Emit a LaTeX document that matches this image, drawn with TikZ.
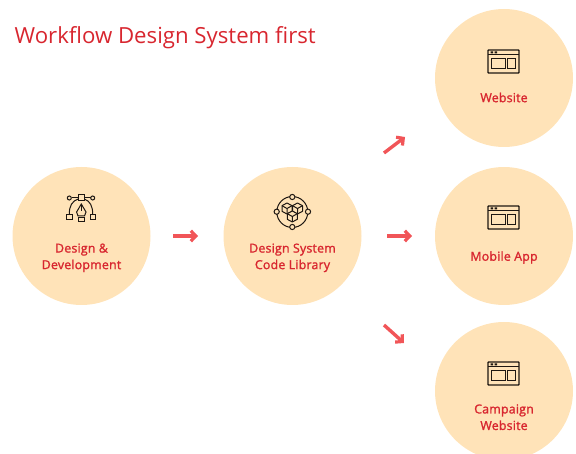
\documentclass[tikz,border=0pt]{standalone}
\usepackage{fontspec}
\setmainfont{Open Sans}
\newfontface\semibd[FakeBold=1.4,LetterSpace=1.5]{Open Sans}
\definecolor{disc}{HTML}{FFE3B8}
\definecolor{txt}{HTML}{D8262F}
\definecolor{arr}{HTML}{F15558}
\definecolor{ink}{HTML}{1E1712}
\usetikzlibrary{arrows.meta}
\tikzset{
  disc/.style={circle,fill=disc,draw=none,minimum size=138pt,inner sep=0pt},
  lab/.style={text=txt,font=\fontsize{12.4pt}{16.5pt}\selectfont\semibd,align=center,inner sep=0pt},
  flow/.style={draw=arr,line width=3.4pt,-{Straight Barb[length=5pt,width=10.5pt,line width=3.2pt]}},
  icon/.style={draw=ink,line width=1pt,fill=none},
  browser/.pic={
    \draw[icon,line width=1.3pt,rounded corners=.6pt] (-15.5,-11.5) rectangle (15.5,11.5);
    \draw[icon] (-15.5,-6.5) -- (15.5,-6.5);
    \fill[ink] (-13,-10) rectangle (-10.5,-8) (-9,-10) rectangle (-6.5,-8);
    \draw[icon] (-12,-3) rectangle (2,7.5);
    \draw[icon] (3.5,-3) rectangle (11.5,7.5);
  },
}
\begin{document}
\begin{tikzpicture}[x=1pt,y=-1pt]
\useasboundingbox (0,0) rectangle (576,454);
\begin{scope}
\clip (0,0) rectangle (576,454);
\node[disc] (dev) at (81.5,236) {};
\node[disc] (lib) at (292.5,236) {};
\node[disc] (web) at (504,78) {};
\node[disc] (app) at (504,236) {};
\node[disc] (camp) at (504,391) {};
\end{scope}
\node[anchor=west,text=txt,font=\fontsize{22.2pt}{28pt}\selectfont,inner sep=0pt] (title) at (14.5,37.5) {Workflow Design System first};
\node[lab] (devl) at (81.5,257.8) {Design \&\\Development};
\node[lab] (libl) at (292.5,257.8) {Design System\\Code Library};
\node[lab] (webl) at (504,97.5) {Website};
\node[lab] (appl) at (504,257.5) {Mobile App};
\node[lab] (campl) at (504,417.2) {Campaign\\Website};
% icons
\pic at (503.5,61.5) {browser};
\pic at (503.5,217.5) {browser};
\pic at (503.5,373.5) {browser};
% pen tool icon
\draw[icon] (71.5,198) -- (78.3,198) (84.3,198) -- (90.5,198);
\draw[icon] (69.3,198) circle (2pt) (92.7,198) circle (2pt);
\draw[icon] (78.3,195) rectangle (84.3,201);
\draw[icon] (69.3,214) .. controls (69.3,206) and (72,201) .. (78.3,199);
\draw[icon] (92.7,214) .. controls (92.7,206) and (90,201) .. (84.3,199);
\draw[icon] (66.5,214.3) rectangle (72.2,220);
\draw[icon] (90,214.3) rectangle (95.7,220);
\draw[icon] (81.3,204) -- (86,212) -- (84.5,216) -- (78,216) -- (76.6,212) -- cycle;
\draw[icon] (81.3,204) -- (81.3,211);
\draw[icon] (78.3,218) rectangle (84.3,222);
% cubes icon
\draw[icon] (292.3,212) circle (15.5pt);
\foreach \px/\py in {292.3/197,276.7/211.7,308/211.7,292.3/227}{\filldraw[draw=ink,fill=disc,line width=1pt] (\px,\py) circle (2.6pt);}
\foreach \cx/\cy in {287/208.5,297.5/208.5,292.3/216.5}{
  \begin{scope}[shift={(\cx,\cy)}]
  \draw[icon,fill=disc,line join=round] (0,-5.5) -- (5,-2.8) -- (5,2.8) -- (0,5.5) -- (-5,2.8) -- (-5,-2.8) -- cycle;
  \draw[icon] (-5,-2.8) -- (0,0) -- (5,-2.8) (0,0) -- (0,5.5);
  \end{scope}
}
% connectors
\coordinate (a1) at (173,236);\coordinate (a2) at (198,236);
\coordinate (b1) at (387,236);\coordinate (b2) at (412,236);
\coordinate (c1) at (384,153);\coordinate (c2) at (405,137);
\coordinate (d1) at (384,325);\coordinate (d2) at (404,343);
\draw[flow] (a1) -- (a2);
\draw[flow] (b1) -- (b2);
\draw[flow] (c1) -- (c2);
\draw[flow] (d1) -- (d2);
\end{tikzpicture}
\end{document}
